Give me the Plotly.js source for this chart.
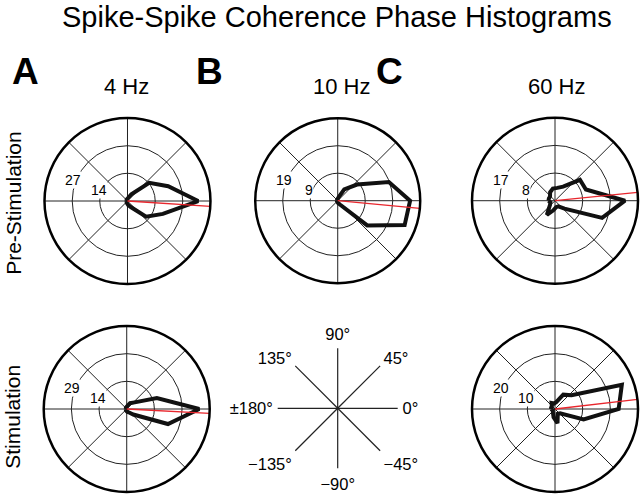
<!DOCTYPE html>
<html>
<head>
<meta charset="utf-8">
<script src="https://cdn.plot.ly/plotly-3.0.1.min.js"></script>
<style>html,body{margin:0;padding:0;background:#fff;}#chart{width:640px;height:494px;}</style>
</head>
<body>
<div id="chart"></div>
<script>
// Phase bins (degrees), 20° spacing
const theta = [-180,-160,-140,-120,-100,-80,-60,-40,-20,0,20,40,60,80,100,120,140,160];
// Histogram counts per bin
const preA  = [0.5,0.5,0.5,0.8,1.2,2,3.6,12,18.6,34.9,21.4,14,3.8,1.5,1,0.8,0.5,0.5];
const preB  = [0.3,0.3,0.3,0.3,0.5,0.8,1.5,13.3,24.6,25,18.8,8.7,4.5,1,0.5,0.3,0.3,0.3];
const preC  = [2,1.5,2,5,3,2,2,3.8,15.4,21.5,10.1,10,5,4,3.8,3,2,2];
const stimA = [0.5,0.5,0.5,0.8,1,1.5,2,4.5,23,38,16.8,5.4,3.5,1.5,1,0.8,0.5,0.5];
const stimC = [1.5,1,1,1.5,3,5.2,2,2.4,11,23,25.7,7.8,6,2.5,2,2.5,1.5,1.5];
// Mean phase (degrees) for each panel
const meanPhase = [-3.7,-5.4,5.7,-3,6.6];
// Radial ring ticks and labels per panel
const ringVals   = [[13.7,27.3],[9.5,19],[8.5,17],[14.5,29],[10,20]];
const ringLabels = [['14','27'],['9','19'],['8','17'],['14','29'],['10','20']];
const rMax = [41,28.5,25.5,43.5,30];
// Key labels
const keyVals = [0,45,90,135,180,225,270,315];
const keyText = ['0°','45°','90°','135°','±180°','−135°','−90°','−45°'];
const freqLabels = ['4 Hz','10 Hz','60 Hz'];
const panelLetters = ['A','B','C'];
const rowLabels = ['Pre-Stimulation','Stimulation'];

const W = 640, H = 494;
const series = [preA, preB, preC, stimA, stimC];
const domains = [
  {x:[0.0695,0.3289], y:[0.4251,0.7611]},
  {x:[0.3988,0.6566], y:[0.4267,0.7607]},
  {x:[0.7375,0.9969], y:[0.4257,0.7617]},
  {x:[0.0683,0.3277], y:[0.0040,0.3401]},
  {x:[0.7375,0.9969], y:[0.0040,0.3401]}
];
const FONT = 'Liberation Sans, Arial, Helvetica, sans-serif';
const LABEL_ANGLE = 159 * Math.PI / 180;
const traces = [];
const layout = {
  width:W, height:H,
  margin:{l:0,r:0,t:0,b:0},
  paper_bgcolor:'#fff',
  showlegend:false,
  font:{family:FONT, color:'#000'},
  annotations:[]
};
series.forEach((vals,i)=>{
  const sp = i===0 ? 'polar' : 'polar'+(i+1);
  const d = domains[i];
  traces.push({
    type:'scatterpolar', mode:'lines', subplot:sp,
    r: vals.concat([vals[0]]), theta: theta.concat([theta[0]]),
    line:{color:'#111', width:4}, hoverinfo:'skip'
  });
  traces.push({
    type:'scatterpolar', mode:'lines', subplot:sp,
    r:[0, rMax[i]], theta:[meanPhase[i], meanPhase[i]],
    line:{color:'#e8262d', width:1.3}, hoverinfo:'skip'
  });
  layout[sp] = {
    domain: d,
    bgcolor:'rgba(0,0,0,0)',
    radialaxis:{
      range:[0,rMax[i]], tickmode:'array', tickvals:ringVals[i], ticktext:ringLabels[i],
      showticklabels:false, showline:false, ticks:'', showgrid:true,
      gridcolor:'#222', gridwidth:1
    },
    angularaxis:{
      tickmode:'linear', tick0:0, dtick:45, showticklabels:false, ticks:'',
      showline:true, linecolor:'#000', linewidth:2.5,
      showgrid:true, gridcolor:'#222', gridwidth:1, direction:'counterclockwise', rotation:0
    }
  };
  // ring labels placed on the rings (scaled from ring values) at ~159°
  const cx = (d.x[0]+d.x[1])/2, cy = (d.y[0]+d.y[1])/2;
  const Rpx = Math.min((d.x[1]-d.x[0])*W, (d.y[1]-d.y[0])*H)/2;
  ringVals[i].forEach((v,j)=>{
    const rp = v/rMax[i]*Rpx + 3;
    layout.annotations.push({
      text: ringLabels[i][j], xref:'paper', yref:'paper',
      x: cx + rp*Math.cos(LABEL_ANGLE)/W, y: cy + rp*Math.sin(LABEL_ANGLE)/H,
      xanchor:'center', yanchor:'middle', showarrow:false,
      bgcolor:'#fff', borderpad:0, font:{size:14, family:FONT}
    });
  });
});
// Key polar (phase legend)
traces.push({type:'scatterpolar', mode:'lines', subplot:'polar6', r:[0], theta:[0], line:{color:'rgba(0,0,0,0)'}, hoverinfo:'skip'});
layout.polar6 = {
  domain:{x:[0.4339,0.6214], y:[0.052,0.295]},
  bgcolor:'rgba(0,0,0,0)',
  radialaxis:{visible:false, range:[0,1]},
  angularaxis:{
    tickmode:'array', tickvals:keyVals, ticktext:keyText, ticks:'outside', ticklen:1, tickcolor:'rgba(0,0,0,0)',
    showline:false, showgrid:true, gridcolor:'#222', gridwidth:1.2,
    tickfont:{size:16.5, family:FONT, color:'#000'}, direction:'counterclockwise', rotation:0
  }
};
// Texts
layout.annotations.push({text:'Spike-Spike Coherence Phase Histograms', xref:'paper', yref:'paper', x:0.527, y:0.966,
  xanchor:'center', yanchor:'middle', showarrow:false, font:{size:29, family:FONT}});
const letterX = [0.0406, 0.328, 0.608];
const freqX = [0.198, 0.534, 0.869];
for (let k=0;k<3;k++){
  layout.annotations.push({text:'<b>'+panelLetters[k]+'</b>', xref:'paper', yref:'paper', x:letterX[k], y:0.855,
    xanchor:'center', yanchor:'middle', showarrow:false, font:{size:37, family:FONT}});
  layout.annotations.push({text:freqLabels[k], xref:'paper', yref:'paper', x:freqX[k], y:0.824,
    xanchor:'center', yanchor:'middle', showarrow:false, font:{size:22, family:FONT}});
}
layout.annotations.push({text:rowLabels[0], xref:'paper', yref:'paper', x:0.02, y:0.589, textangle:-90,
  xanchor:'center', yanchor:'middle', showarrow:false, font:{size:21, family:FONT}});
layout.annotations.push({text:rowLabels[1], xref:'paper', yref:'paper', x:0.02, y:0.156, textangle:-90,
  xanchor:'center', yanchor:'middle', showarrow:false, font:{size:21, family:FONT}});

Plotly.newPlot('chart', traces, layout, {displayModeBar:false, staticPlot:true});
</script>
</body>
</html>
